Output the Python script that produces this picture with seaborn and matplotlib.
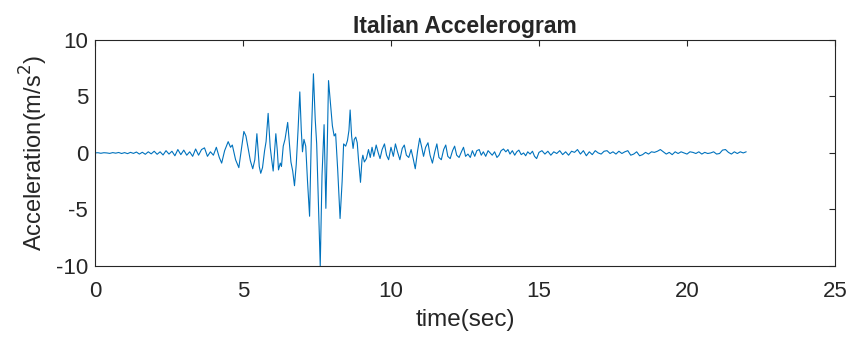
import matplotlib
matplotlib.use('Agg')
import matplotlib.pyplot as plt
import seaborn as sns
import pandas as pd

# time (s) and acceleration (m/s^2)
time_pre = [0.0, 0.1, 0.2, 0.3, 0.4, 0.5, 0.6, 0.7, 0.8, 0.9,
            1.0, 1.1, 1.2, 1.3, 1.4, 1.5, 1.6, 1.7, 1.8, 1.9,
            2.0, 2.1, 2.2, 2.3, 2.4, 2.5, 2.6, 2.7, 2.8, 2.9,
            3.0, 3.1, 3.2, 3.3, 3.4, 3.5, 3.6, 3.7, 3.8, 3.9, 4.0]
acc_pre = [0.0, 0.02, -0.03, 0.02, 0.0, -0.04, 0.03, -0.02, 0.04, -0.05,
           0.03, -0.06, 0.05, -0.04, 0.08, -0.1, 0.06, -0.12, 0.1, -0.08,
           0.15, -0.12, 0.1, -0.18, 0.2, -0.1, 0.15, -0.25, 0.3, -0.15,
           0.25, -0.2, 0.1, -0.3, 0.35, -0.2, 0.3, 0.45, -0.3, 0.1, -0.2]

time_strong = [4.1, 4.2, 4.28, 4.38, 4.5, 4.58, 4.64, 4.75, 4.86, 4.95,
               5.03, 5.1, 5.18, 5.25, 5.33, 5.4, 5.47, 5.55, 5.6, 5.66,
               5.73, 5.78, 5.85, 5.92, 5.97, 6.02, 6.07, 6.11, 6.16, 6.2,
               6.26, 6.3, 6.36, 6.42, 6.47, 6.51, 6.57, 6.62, 6.68, 6.74,
               6.8, 6.86, 6.92, 6.97, 7.01, 7.06, 7.12, 7.18, 7.25, 7.31,
               7.38, 7.44, 7.49, 7.55, 7.61, 7.67, 7.74, 7.8, 7.85, 7.89,
               7.95, 8.02, 8.08, 8.13, 8.2, 8.28, 8.35, 8.4, 8.47, 8.53,
               8.58, 8.62, 8.67, 8.72, 8.76, 8.81, 8.86, 8.9, 8.97, 9.02]
acc_strong = [0.5, -0.4, -0.9, 0.2, 1.0, 0.5, 0.7, -0.6, -1.3, 0.4,
              1.9, 1.5, 0.3, -0.7, -1.4, -0.6, 1.7, -1.2, -1.8, -1.3,
              0.2, 1.0, 3.5, 0.5, -0.6, -1.6, 0.2, 1.7, 0.2, -1.5,
              -0.9, -1.2, 0.6, 1.2, 2.0, 2.7, 0.8, -0.8, -1.6, -2.9,
              -1.0, 2.0, 5.4, 2.0, 0.1, 1.2, 0.6, -2.5, -5.6, 1.5,
              7.0, 3.0, 0.8, -4.5, -10.0, -2.0, 2.5, -4.9, 1.0, 6.4,
              4.5, 2.4, 1.5, 1.7, -1.5, -5.8, -2.5, 0.8, 0.6, 1.1,
              2.0, 3.8, 1.5, 0.4, 1.2, 1.4, 0.9, -0.5, -2.6, -0.6]

time_coda = [9.05, 9.1, 9.17, 9.24, 9.3, 9.36, 9.42, 9.5, 9.57, 9.63,
             9.7, 9.78, 9.85, 9.92, 10.0, 10.08, 10.15, 10.22, 10.3, 10.38,
             10.45, 10.52, 10.6, 10.68, 10.75, 10.82, 10.9, 10.97, 11.03, 11.1,
             11.17, 11.25, 11.32, 11.4, 11.48, 11.55, 11.62, 11.7, 11.78, 11.85,
             11.92, 12.0, 12.08, 12.15, 12.22, 12.3, 12.38, 12.45, 12.52, 12.6,
             12.68, 12.75, 12.83, 12.9, 12.98, 13.05, 13.12, 13.2, 13.28, 13.35,
             13.42, 13.5, 13.58, 13.65, 13.72, 13.8, 13.88, 13.95, 14.02, 14.1,
             14.18, 14.25, 14.32, 14.4, 14.48, 14.55, 14.62, 14.7, 14.78, 14.85,
             14.92, 15.0]
acc_coda = [-0.2, -0.8, -0.5, 0.3, -0.4, 0.5, -0.3, 0.7, 0.0, -0.5,
            0.3, 0.8, -0.2, -0.6, 0.5, -0.3, 0.8, 0.1, -0.6, 0.4,
            0.7, -0.2, -0.4, 0.3, -0.5, -1.4, 0.2, 1.3, 0.6, -0.3,
            0.5, 0.9, -0.2, -0.9, 0.1, 0.8, -0.4, -0.6, 0.3, 0.7,
            -0.3, -0.5, 0.2, 0.6, -0.2, -0.4, 0.1, 0.5, -0.3, -0.1,
            -0.4, 0.2, -0.3, 0.2, 0.3, -0.2, 0.1, -0.3, 0.2, 0.0,
            -0.2, 0.1, -0.4, -0.2, 0.2, 0.35, 0.1, 0.3, -0.1, 0.2,
            -0.2, 0.1, 0.25, -0.15, 0.0, -0.25, 0.1, -0.1, 0.15, -0.3,
            -0.5, 0.05]

time_tail = [15.1, 15.2, 15.3, 15.4, 15.5, 15.6, 15.7, 15.8, 15.9, 16.0,
             16.1, 16.2, 16.3, 16.4, 16.5, 16.6, 16.7, 16.8, 16.9, 17.0,
             17.1, 17.2, 17.3, 17.4, 17.5, 17.6, 17.7, 17.8, 17.9, 18.0,
             18.1, 18.2, 18.3, 18.4, 18.5, 18.6, 18.7, 18.8, 18.9, 19.0,
             19.1, 19.2, 19.3, 19.4, 19.5, 19.6, 19.7, 19.8, 19.9, 20.0,
             20.1, 20.2, 20.3, 20.4, 20.5, 20.6, 20.7, 20.8, 20.9, 21.0,
             21.1, 21.2, 21.3, 21.4, 21.5, 21.6, 21.7, 21.8, 21.9, 22.0]
acc_tail = [0.2, -0.1, 0.15, -0.2, 0.1, -0.05, 0.2, -0.15, 0.1, -0.2,
            0.15, 0.05, 0.3, -0.1, 0.2, -0.25, 0.1, -0.15, 0.2, 0.0,
            -0.1, 0.15, 0.2, -0.05, 0.1, -0.1, 0.15, -0.05, 0.1, 0.2,
            -0.2, -0.1, 0.1, -0.25, -0.15, 0.05, -0.1, 0.1, 0.05, 0.15,
            0.3, 0.1, -0.1, 0.05, -0.15, 0.1, -0.05, 0.1, 0.0, -0.1,
            0.1, 0.05, -0.05, 0.1, -0.1, 0.05, -0.05, 0.0, 0.1, -0.1,
            -0.05, 0.25, 0.3, 0.05, -0.1, 0.1, -0.05, 0.1, 0.0, 0.1]

df = pd.DataFrame({
    'time': time_pre + time_strong + time_coda + time_tail,
    'acc': acc_pre + acc_strong + acc_coda + acc_tail,
})

sns.set_style('white')
plt.rcParams['font.family'] = ['Liberation Sans', 'DejaVu Sans']
plt.rcParams['axes.unicode_minus'] = False

fig = plt.figure(figsize=(8.51, 3.41), dpi=100)
ax = fig.add_axes([0.1116, 0.22, 0.8696, 0.663])

sns.lineplot(data=df, x='time', y='acc', sort=False, estimator=None,
             color='#0072BD', linewidth=0.8, ax=ax)

ax.set_xlim(0, 25)
ax.set_ylim(-10, 10)
ax.set_xticks([0, 5, 10, 15, 20, 25])
ax.set_yticks([-10, -5, 0, 5, 10])

for s in ax.spines.values():
    s.set_visible(True)
    s.set_color('#262626')
    s.set_linewidth(0.8)
ax.tick_params(direction='in', length=4, width=0.8, top=True, right=True,
               labelsize=16, colors='#262626')
ax.tick_params(axis='x', pad=11)
ax.tick_params(axis='y', pad=5)

ax.set_title('Italian Accelerogram', fontsize=16.5, fontweight='bold', pad=5)
ax.set_xlabel('time(sec)', fontsize=17.5, color='#262626', labelpad=5)
ax.set_ylabel('Acceleration(m/s$^2$)', fontsize=17, color='#262626', labelpad=4)

fig.savefig('out.png', dpi=100)
